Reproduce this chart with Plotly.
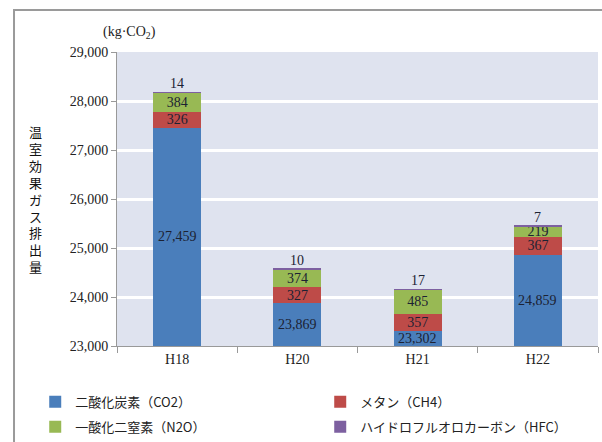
import plotly.graph_objects as go

categories = ["H18", "H20", "H21", "H22"]
co2 = [27459, 23869, 23302, 24859]
ch4 = [326, 327, 357, 367]
n2o = [384, 374, 485, 219]
hfc = [14, 10, 17, 7]
series_names = ["二酸化炭素（CO2）", "メタン（CH4）", "一酸化二窒素（N2O）", "ハイドロフルオロカーボン（HFC）"]
colors = ["#4a7ebb", "#be4b48", "#98b954", "#7d60a0"]
y_ticks = [23000, 24000, 25000, 26000, 27000, 28000, 29000]
y_range = [23000, 29000]

FONT = "'Liberation Serif', 'Noto Sans CJK JP', serif"
JFONT = "'Noto Sans CJK JP', sans-serif"
LABEL_COLOR = "#1c2233"

fig = go.Figure()
vals = [co2, ch4, n2o, hfc]
legends = ["legend", "legend", "legend2", "legend2"]
for i, (name, v) in enumerate(zip(series_names, vals)):
    kw = {}
    if i in (1, 2):
        kw = dict(text=[f"{a:,}" for a in v], textposition="inside",
                  insidetextanchor="middle", constraintext="none",
                  textfont=dict(family=FONT, size=14, color=LABEL_COLOR))
    fig.add_trace(go.Bar(
        x=categories, y=v, name=name,
        marker=dict(color=colors[i], line=dict(width=0)),
        width=0.4,
        legend=legends[i],
        hoverinfo="skip",
        **kw,
    ))

# CO2 labels: centred in the visible part of the blue bar
for cat, v in zip(categories, co2):
    fig.add_annotation(x=cat, y=(y_range[0] + v) / 2, text=f"{v:,}", showarrow=False,
                       yanchor="middle",
                       font=dict(family=FONT, size=14, color=LABEL_COLOR))

# HFC labels above the bar tops
totals = [a + b + c + d for a, b, c, d in zip(co2, ch4, n2o, hfc)]
for cat, tot, h in zip(categories, totals, hfc):
    fig.add_annotation(x=cat, y=tot, text=str(h), showarrow=False,
                       yanchor="bottom", yshift=-1,
                       font=dict(family=FONT, size=14, color=LABEL_COLOR))

# unit label
fig.add_annotation(xref="paper", yref="paper", x=0.085, y=1.065, xanchor="right", yanchor="middle",
                   text="(kg·CO<sub>2</sub>)", showarrow=False,
                   font=dict(family=FONT, size=14, color="#222"))
# vertical y-axis title
fig.add_annotation(xref="paper", yref="paper", x=-0.170, y=0.5, xanchor="center", yanchor="middle",
                   text="<br>".join(list("温室効果ガス排出量")), showarrow=False,
                   font=dict(family=JFONT, size=13, color="#111"))

# outer frame
fig.add_shape(type="rect", xref="paper", yref="paper",
              x0=-0.2141, x1=1.03, y0=-0.36, y1=1.143,
              line=dict(color="#9a9a9a", width=2), fillcolor="rgba(0,0,0,0)", layer="below")

fig.update_layout(
    width=602, height=442,
    margin=dict(l=117, r=4, t=52, b=96, autoexpand=False),
    barmode="stack",
    paper_bgcolor="white",
    plot_bgcolor="#dfe3ef",
    font=dict(family=FONT, size=14, color="#222"),
    showlegend=True,
    legend=dict(orientation="h", x=-0.17, y=-0.139, xanchor="left", yanchor="top",
                entrywidth=240, entrywidthmode="pixels", traceorder="normal",
                font=dict(family=JFONT, size=13, color="#222"), itemwidth=30,
                bgcolor="rgba(0,0,0,0)"),
    legend2=dict(orientation="h", x=-0.17, y=-0.224, xanchor="left", yanchor="top",
                 entrywidth=240, entrywidthmode="pixels", traceorder="normal",
                 font=dict(family=JFONT, size=13, color="#222"), itemwidth=30,
                 bgcolor="rgba(0,0,0,0)"),
)
fig.update_xaxes(showgrid=False, ticks="outside", tickson="boundaries", ticklen=6,
                 tickcolor="#999", showline=True, linecolor="#999", linewidth=1,
                 tickfont=dict(family=FONT, size=14, color="#222"))
fig.update_yaxes(range=y_range, tickvals=y_ticks, tickformat=",",
                 showgrid=True, gridcolor="white", gridwidth=3,
                 ticks="outside", ticklen=5, tickcolor="#999",
                 showline=True, linecolor="#999", linewidth=1, zeroline=False,
                 tickfont=dict(family=FONT, size=14, color="#222"))

fig.write_html("out.html")
